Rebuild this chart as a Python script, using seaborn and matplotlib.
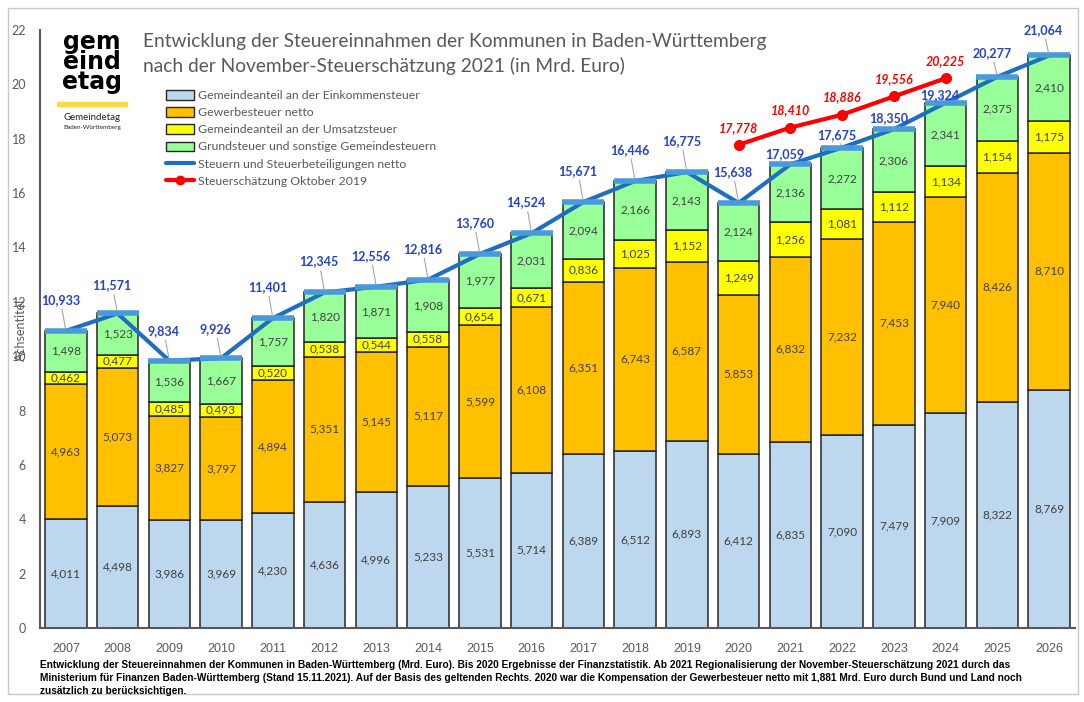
import matplotlib
matplotlib.use("Agg")
import matplotlib.pyplot as plt
import matplotlib.patches as mpatches
from matplotlib.lines import Line2D
import seaborn as sns

sns.set_style("white")
plt.rcParams['font.family'] = ['Lato', 'DejaVu Sans']

years = [str(y) for y in range(2007, 2027)]
einkommen = [4.011, 4.498, 3.986, 3.969, 4.230, 4.636, 4.996, 5.233, 5.531, 5.714,
             6.389, 6.512, 6.893, 6.412, 6.835, 7.090, 7.479, 7.909, 8.322, 8.769]
gewerbe = [4.963, 5.073, 3.827, 3.797, 4.894, 5.351, 5.145, 5.117, 5.599, 6.108,
           6.351, 6.743, 6.587, 5.853, 6.832, 7.232, 7.453, 7.940, 8.426, 8.710]
umsatz = [0.462, 0.477, 0.485, 0.493, 0.520, 0.538, 0.544, 0.558, 0.654, 0.671,
          0.836, 1.025, 1.152, 1.249, 1.256, 1.081, 1.112, 1.134, 1.154, 1.175]
grund = [1.498, 1.523, 1.536, 1.667, 1.757, 1.820, 1.871, 1.908, 1.977, 2.031,
         2.094, 2.166, 2.143, 2.124, 2.136, 2.272, 2.306, 2.341, 2.375, 2.410]
gesamt = [10.933, 11.571, 9.834, 9.926, 11.401, 12.345, 12.556, 12.816, 13.760, 14.524,
          15.671, 16.446, 16.775, 15.638, 17.059, 17.675, 18.350, 19.324, 20.277, 21.064]
schaetzung_jahre = ["2020", "2021", "2022", "2023", "2024"]
schaetzung_2019 = [17.778, 18.410, 18.886, 19.556, 20.225]

# label offsets (points) above the blue line
total_dy = [18, 16, 17, 17, 18, 18, 18, 18, 18, 18, 18, 18, 18, 18, 3, 5, 4, 1, 13, 14]

def de(v):
    return f"{v:.3f}".replace(".", ",")

fig = plt.figure(figsize=(10.84, 7.02), dpi=100)
ax = fig.add_axes([40/1084, 1-628/702, 1035/1084, 598/702])

layers = [
    (einkommen, "#BDD7EE", "Gemeindeanteil an der Einkommensteuer"),
    (gewerbe, "#FFC000", "Gewerbesteuer netto"),
    (umsatz, "#FFFF00", "Gemeindeanteil an der Umsatzsteuer"),
    (grund, "#99FF99", "Grundsteuer und sonstige Gemeindesteuern"),
]
bottom = [0.0] * len(years)
handles = []
for vals, col, name in layers:
    sns.barplot(x=years, y=vals, bottom=bottom, color=col, saturation=1,
                edgecolor="#262626", linewidth=1.1, width=0.8, ax=ax)
    ax.bar_label(ax.containers[-1], labels=[de(v) for v in vals], label_type="center",
                 fontsize=8.5, color="#404040")
    bottom = [b + v for b, v in zip(bottom, vals)]
    handles.append(mpatches.Patch(facecolor=col, edgecolor="#262626", linewidth=1, label=name))

xs = list(range(len(years)))
ax.plot(xs, gesamt, color="#1F6FC0", lw=3, zorder=5)
ax.plot(xs, gesamt, ls="none", marker="_", ms=30, mew=4, color="#4A9ADB", zorder=6)
for x, v, dy in zip(xs, gesamt, total_dy):
    ax.annotate(de(v), (x, v), xytext=(-4, dy), textcoords="offset points",
                ha="center", va="bottom", fontsize=9, fontweight="bold", color="#2541D0",
                arrowprops=dict(arrowstyle="-", color="#A6A6A6", lw=0.8, shrinkA=0, shrinkB=2),
                zorder=7)

sx = [years.index(y) for y in schaetzung_jahre]
ax.plot(sx, schaetzung_2019, color="#FF0000", lw=3, marker="o", ms=7, zorder=6)
for x, v in zip(sx, schaetzung_2019):
    ax.annotate(de(v), (x, v), xytext=(0, 8), textcoords="offset points",
                ha="center", va="bottom", fontsize=9, fontweight="bold",
                fontstyle="italic", color="#FF0000")

handles.append(Line2D([], [], color="#1F6FC0", lw=3, label="Steuern und Steuerbeteiligungen netto"))
handles.append(Line2D([], [], color="#FF0000", lw=3, marker="o", ms=6,
                      label="Steuerschätzung Oktober 2019"))
fig.legend(handles=handles, loc="upper left", bbox_to_anchor=(160/1084, 1-84/702),
           frameon=False, fontsize=8.8, labelcolor="#595959", handlelength=2.3,
           handleheight=0.8, labelspacing=0.5, handletextpad=0.3, borderpad=0)

ax.set_ylim(0, 22)
ax.set_xlim(-0.5, 19.5)
ax.set_yticks(range(0, 23, 2))
ax.tick_params(axis="y", length=0, pad=10, labelsize=9, labelcolor="#595959")
ax.tick_params(axis="x", length=0, pad=11, labelsize=9, labelcolor="#595959")
for lab in ax.get_xticklabels():
    lab.set_family(["Liberation Sans", "DejaVu Sans"])
ax.set_xlabel("")
for s in ["top", "right"]:
    ax.spines[s].set_visible(False)
for s in ["left", "bottom"]:
    ax.spines[s].set_color("#595959")
    ax.spines[s].set_linewidth(1.5)

fig.text(21/1084, 1-330/702, "Achsentitel", rotation=90, ha="center", va="center",
         fontsize=9, color="#595959")

fig.text(143/1084, 1-54/702,
         "Entwicklung der Steuereinnahmen der Kommunen in Baden-Württemberg\n"
         "nach der November-Steuerschätzung 2021 (in Mrd. Euro)",
         ha="left", va="center", fontsize=13.8, color="#595959", linespacing=1.4)

# logo
fig.text(92/1084, 1-62/702, "gem\neind\netag", ha="center", va="center",
         fontsize=17, fontweight="heavy", color="black", linespacing=0.8,
         family=["DejaVu Sans"])
fig.patches.append(mpatches.Rectangle((57/1084, 1-106/702), 70/1084, 4/702,
                                      transform=fig.transFigure, color="#FFD84A"))
fig.text(92/1084, 1-117/702, "Gemeindetag", ha="center", va="center", fontsize=7, color="#222222")
fig.text(92/1084, 1-127/702, "Baden-Württemberg", ha="center", va="center", fontsize=4.5,
         color="#222222")

footer = ("Entwicklung der Steuereinnahmen der Kommunen in Baden-Württemberg (Mrd. Euro). Bis 2020 Ergebnisse der Finanzstatistik. "
          "Ab 2021 Regionalisierung der November-Steuerschätzung 2021 durch das\n"
          "Ministerium für Finanzen Baden-Württemberg (Stand 15.11.2021). Auf der Basis des geltenden Rechts. "
          "2020 war die Kompensation der Gewerbesteuer netto mit 1,881 Mrd. Euro durch Bund und Land noch\n"
          "zusätzlich zu berücksichtigen.")
fig.text(40/1084, 1-660/702, footer, ha="left", va="top", fontsize=7.3, fontweight="bold",
         color="black", linespacing=1.4, family=["Liberation Sans", "DejaVu Sans"])

fig.patches.append(mpatches.Rectangle((8/1084, 8/702), 1070/1084, 686/702, transform=fig.transFigure,
                                      fill=False, edgecolor="#C8C8C8", lw=1))

fig.savefig("out.png", dpi=100)
